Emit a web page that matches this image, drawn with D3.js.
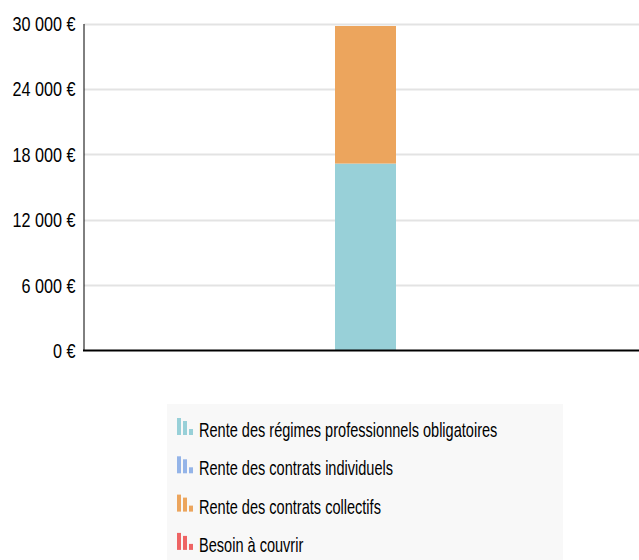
<!DOCTYPE html>
<html><head><meta charset="utf-8">
<script src="https://cdn.jsdelivr.net/npm/d3@7"></script>
<style>
body{margin:0;background:#fff;}
text{font-family:"Liberation Sans",Arial,sans-serif;}
</style></head>
<body><svg id="c" width="639" height="560"></svg>
<script>
const categories = [""];
const seriesNames = ["Rente des régimes professionnels obligatoires","Rente des contrats individuels","Rente des contrats collectifs","Besoin à couvrir"];
const seriesColors = ["#98d0d8","#94b4e8","#eca55d","#ee6464"];
const regimes = [17150];
const individuels = [0];
const collectifs = [12620];
const besoin = [0];
const yTicks = [0,6000,12000,18000,24000,30000];

const svg = d3.select("#c");
const W = 639;
const y = d3.scaleLinear().domain([0,30000]).range([350.5,23.5]);
const x = d3.scaleBand().domain(categories).range([84,647]).paddingInner(0).paddingOuter(4.115);

const fmt = v => d3.format(",")(v).replace(/,/g," ") + " €";

// grid
svg.append("g").selectAll("line").data(yTicks.filter(d=>d>0)).join("line")
  .attr("x1",84).attr("x2",W).attr("y1",d=>Math.round(y(d))+0.5).attr("y2",d=>Math.round(y(d))+0.5)
  .attr("stroke","#e3e3e3").attr("stroke-width",2);

// y axis
const ya = svg.append("g").attr("transform","translate(83.5,0)")
  .call(d3.axisLeft(y).tickValues(yTicks).tickFormat(fmt).tickSize(0).tickPadding(8));
ya.select(".domain").attr("stroke","#000").attr("stroke-width",1);
ya.selectAll("text").attr("font-size",20.5).attr("fill","#000").attr("x",0).attr("dy",null)
  .attr("y",7).attr("transform","translate(-8,0) scale(0.79,1)")
  .attr("font-family","'Liberation Sans',Arial,sans-serif");

// stacks
const data = categories.map((c,i)=>({cat:c, s0:regimes[i], s1:individuels[i], s2:collectifs[i], s3:besoin[i]}));
const stack = d3.stack().keys(["s0","s1","s2","s3"])(data);
svg.append("g").selectAll("g").data(stack).join("g").attr("fill",(d,i)=>seriesColors[i])
  .selectAll("rect").data(d=>d).join("rect")
  .attr("x",d=>x(d.data.cat)).attr("width",x.bandwidth())
  .attr("y",d=>y(d[1])).attr("height",d=>y(d[0])-y(d[1]));

// baseline
svg.append("line").attr("x1",83).attr("x2",W).attr("y1",350.5).attr("y2",350.5).attr("stroke","#000").attr("stroke-width",2);

// legend
const lg = svg.append("g");
lg.append("rect").attr("x",167).attr("y",404).attr("width",396).attr("height",160).attr("fill","#f8f8f8");
const items = lg.selectAll("g").data(seriesNames).join("g")
  .attr("transform",(d,i)=>`translate(177,${437 + i*38.3})`);
items.each(function(d,i){
  const g = d3.select(this);
  const c = seriesColors[i];
  g.append("rect").attr("x",0).attr("y",-19).attr("width",4).attr("height",17).attr("fill",c);
  g.append("rect").attr("x",6).attr("y",-16).attr("width",4).attr("height",14).attr("fill",c);
  g.append("rect").attr("x",12).attr("y",-8).attr("width",4).attr("height",6).attr("fill",c);
});
items.append("text").attr("transform","translate(22,0) scale(0.71,1)").attr("x",0).attr("y",0)
  .attr("font-size",20.5).attr("fill","#000").text(d=>d);
</script></body></html>
